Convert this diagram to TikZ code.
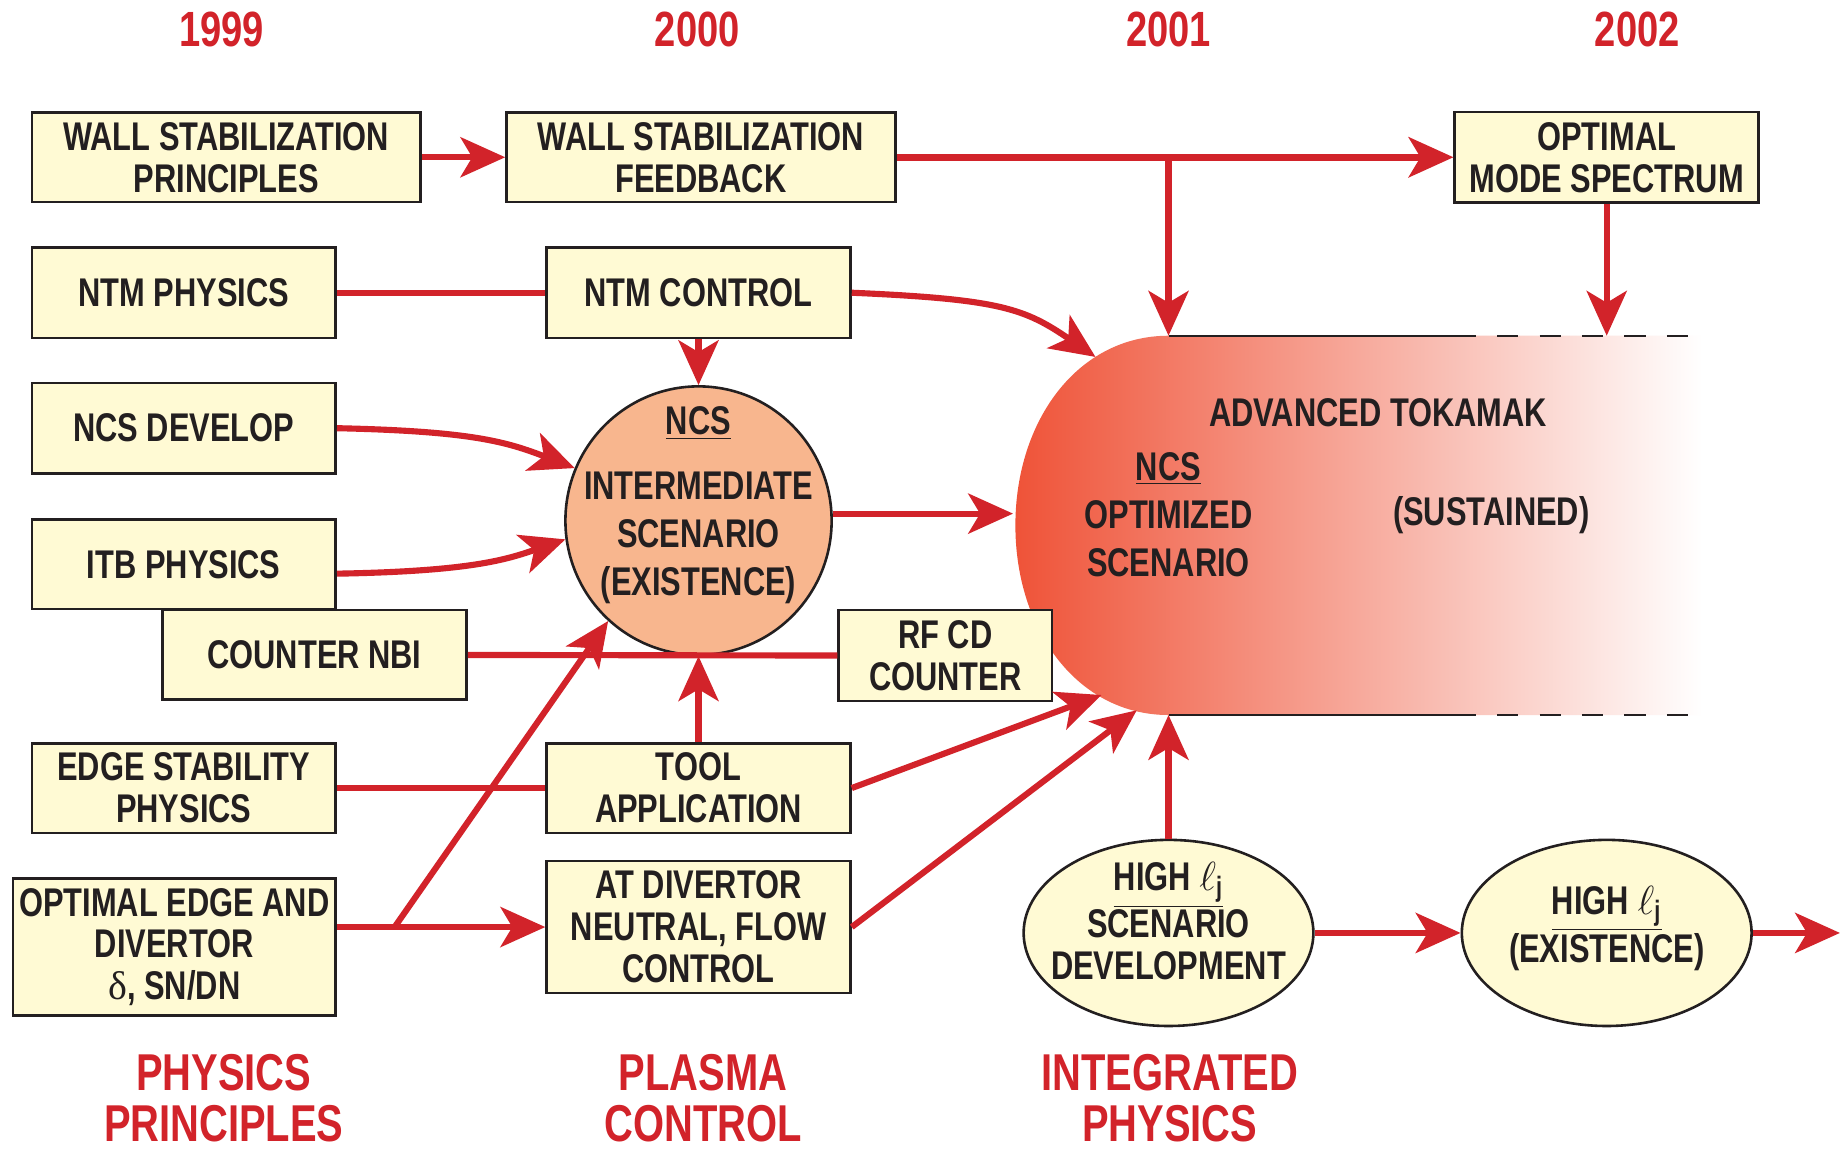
\documentclass[tikz,border=0pt]{standalone}
\usepackage{fontspec}
\setmainfont{Liberation Sans}[FakeStretch=0.77]
\newfontfamily\grkfont{Liberation Serif}
\usetikzlibrary{arrows.meta,shapes.geometric}
\definecolor{ared}{RGB}{210,35,42}
\definecolor{boxfill}{RGB}{255,250,212}
\definecolor{ncsfill}{RGB}{248,182,142}
\definecolor{atleftc}{RGB}{239,83,56}
\definecolor{atmidc}{RGB}{247,160,118}
\definecolor{ink}{RGB}{35,31,32}
\begin{document}
\begin{tikzpicture}[x=0.5pt,y=-0.5pt,
  txt/.style={text=ink, align=center, inner sep=0pt, font=\bfseries\fontsize{17}{17.8}\selectfont},
  box/.style 2 args={txt, draw=ink, line width=1.1pt, fill=boxfill, minimum width=#1, minimum height=#2},
  bubble/.style 2 args={ellipse, draw=ink, line width=1.1pt, minimum width=#1, minimum height=#2, inner sep=0pt},
  year/.style={text=ared, inner sep=0pt, font=\bfseries\fontsize{21}{21}\selectfont},
  cat/.style={text=ared, align=center, inner sep=0pt, font=\bfseries\fontsize{22}{21.5}\selectfont},
  conn/.style={draw=ared, line width=2.6pt},
  arr/.style={conn, -{Stealth[length=19pt,width=17pt,inset=5pt]}},
  edgeline/.style={draw=ink, line width=1pt},
  dashline/.style={draw=ink, line width=1pt, dash pattern=on 9pt off 9pt}
]
\fill[white] (0,0) rectangle (1568,976);
\useasboundingbox (0,0) rectangle (1568,976);

% advanced tokamak shape
\shade[left color=atleftc, middle color=atmidc, right color=white]
  (992,285) -- (1445,285) -- (1445,607) -- (992,607)
  .. controls (915,607) and (862,535) .. (862,446)
  .. controls (862,357) and (915,285) .. (992,285) -- cycle;
\draw[edgeline] (992,285) -- (1235,285);
\draw[dashline] (1235,285) -- (1445,285);
\draw[edgeline] (992,607) -- (1235,607);
\draw[dashline] (1235,607) -- (1445,607);
\node[txt] (advtok) at (1170,350) {ADVANCED TOKAMAK};
\node[txt, font=\bfseries\fontsize{17}{20.5}\selectfont] (atopt) at (992,437) {\underline{NCS}\\OPTIMIZED\\SCENARIO};
\node[txt] (atsus) at (1266,437) {(SUSTAINED)};

% years
\node[year] (y1999) at (188,25) {1999};
\node[year] (y2000) at (592,25) {2000};
\node[year] (y2001) at (992,25) {2001};
\node[year] (y2002) at (1390,25) {2002};

% categories
\node[cat] (c1) at (190,932) {PHYSICS\\PRINCIPLES};
\node[cat] (c2) at (597,932) {PLASMA\\CONTROL};
\node[cat] (c3) at (993,932) {INTEGRATED\\PHYSICS};

% boxes
\node[box={165pt}{38pt}] (wsp) at (192,133.5) {WALL STABILIZATION\\PRINCIPLES};
\node[box={165pt}{38pt}] (wsf) at (595,133.5) {WALL STABILIZATION\\FEEDBACK};
\node[box={129pt}{38.5pt}] (opt) at (1364,133.5) {OPTIMAL\\MODE SPECTRUM};
\node[box={129pt}{38.5pt}] (ntmp) at (156,248.5) {NTM PHYSICS};
\node[box={129pt}{38.5pt}] (ntmc) at (593,248.5) {NTM CONTROL};
\node[box={129pt}{38.5pt}] (ncsd) at (156,363.5) {NCS DEVELOP};
\node[box={129pt}{38pt}] (itb) at (156,479) {ITB PHYSICS};
\node[box={129pt}{38pt}] (cnbi) at (267,556) {COUNTER NBI};
\node[box={90.5pt}{38.5pt}] (rfcd) at (802.5,556.5) {RF CD\\COUNTER};
\node[box={129pt}{38pt}] (edge) at (156,669) {EDGE STABILITY\\PHYSICS};
\node[box={129pt}{38pt}] (tool) at (593,669) {TOOL\\APPLICATION};
\node[box={137pt}{58pt}] (oed) at (148,804) {OPTIMAL EDGE AND\\DIVERTOR\\{\grkfont\mdseries δ}, SN/DN};
\node[box={129pt}{56pt}] (atd) at (593,787) {AT DIVERTOR\\NEUTRAL, FLOW\\CONTROL};

% NCS intermediate bubble
\node[bubble={113pt}{114pt}, fill=ncsfill] (ncs) at (593,442) {};
\node[txt, font=\bfseries\fontsize{17}{20.5}\selectfont] (ncstxt) at (593,429) {\underline{NCS}\\[7pt]INTERMEDIATE\\SCENARIO\\(EXISTENCE)};

% high li bubbles
\node[bubble={123pt}{79pt}, fill=boxfill] (hl1) at (992,792) {};
\node[txt] (hl1txt) at (992,782) {\underline{HIGH $\ell$\textsubscript{j}}\\SCENARIO\\DEVELOPMENT};
\node[bubble={123pt}{79pt}, fill=boxfill] (hl2) at (1364,792) {};
\node[txt] (hl2txt) at (1364,788) {\underline{HIGH $\ell$\textsubscript{j}}\\(EXISTENCE)};

% connectors
\coordinate (br) at (992,133.5);
\coordinate (attop) at (992,285);
\coordinate (atntm) at (930,303);
\coordinate (atleftpt) at (860,436);
\coordinate (attool) at (935,590);
\coordinate (atatd) at (965,603);
\coordinate (atbot) at (992,607);
\coordinate (split) at (335,787);
\coordinate (outend) at (1562,792);

\draw[arr] (wsp.east) -- (wsf.west);
\draw[arr, line width=3pt] (wsf.east) -- (opt.west);
\draw[arr] (br) -- (attop);
\draw[arr] (opt.south) -- (opt.south |- attop);
\draw[conn] (ntmp.east) -- (ntmc.west);
\draw[arr] (ntmc.east) .. controls (850,254) and (870,262) .. (atntm);
\draw[arr] (ntmc.south) -- (ncs.north);
\draw[arr] (ncsd.east) .. controls (400,366) and (430,375) .. (ncs.157);
\draw[arr] ([yshift=-4pt]itb.east) .. controls (400,485) and (430,475) .. (ncs.188);
\draw[conn] (cnbi.east) -- (rfcd.west);
\draw[arr] (ncs.3) -- (ncs.3 -| atleftpt);
\draw[arr] (tool.north) -- (ncs.south);
\draw[conn] (edge.east) -- (edge.east -| tool.west);
\draw[conn] (split -| oed.east) -- (split);
\draw[arr] (split) -- (atd.west);
\draw[arr] (split) -- (ncs.-132);
\draw[arr] (tool.east) -- (attool);
\draw[arr] (atd.east) -- (atatd);
\draw[arr] (hl1.north) -- (atbot);
\draw[arr] (hl1.east) -- (hl2.west);
\draw[arr] (hl2.east) -- (outend);
\end{tikzpicture}
\end{document}
